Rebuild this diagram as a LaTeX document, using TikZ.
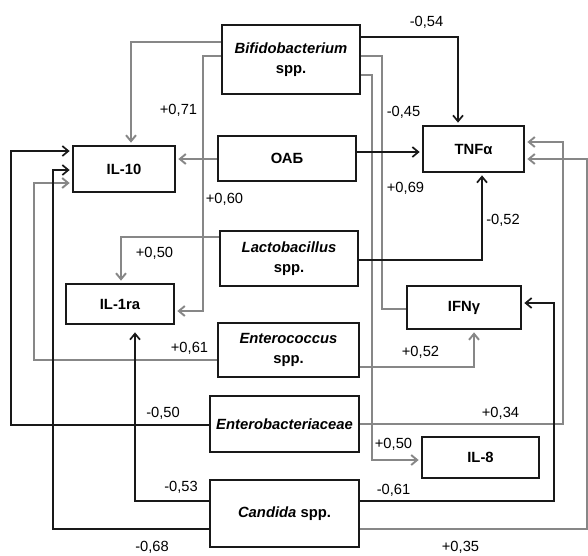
\documentclass[tikz,border=0pt]{standalone}
\usepackage{fontspec}
\setmainfont{Liberation Sans}
\usetikzlibrary{arrows.meta}
\definecolor{gl}{RGB}{135,135,135}
\definecolor{bl}{RGB}{25,25,25}
\begin{document}
\begin{tikzpicture}[x=1pt,y=-1pt,
 box/.style={draw=bl,line width=2.7pt,fill=white,font=\fontsize{14.8}{20}\selectfont\bfseries,align=center,inner sep=0pt},
 lab/.style={font=\fontsize{14.7}{16}\selectfont,anchor=base,inner sep=0pt},
 bc/.style={draw=bl,line width=1.7pt},
 gc/.style={draw=gl,line width=1.9pt},
 tip/.style={-{Straight Barb[length=6pt,width=10pt]},shorten >=2pt}]
\useasboundingbox[fill=white] (0,0) rectangle (588,555);

% nodes
\node[box,minimum width=138pt,minimum height=69pt] (bif) at (291,59.5) {\textit{Bifidobacterium}\\spp.};
\node[box,minimum width=138pt,minimum height=45pt] (oab) at (287,158.5) {ОАБ};
\node[box,minimum width=101pt,minimum height=46pt] (tnf) at (473.5,149) {TNFα};
\node[box,minimum width=102pt,minimum height=46pt] (il10) at (124,169) {IL-10};
\node[box,minimum width=138pt,minimum height=55pt] (lac) at (289,258.5) {\textit{Lactobacillus}\\spp.};
\node[box,minimum width=108pt,minimum height=40pt] (il1ra) at (120,304) {IL-1ra};
\node[box,minimum width=141pt,minimum height=54pt] (enc) at (288.5,350) {\textit{Enterococcus}\\spp.};
\node[box,minimum width=114pt,minimum height=43pt] (ifn) at (464,307.5) {IFNγ};
\node[box,minimum width=149pt,minimum height=56pt] (enb) at (284.5,424) {\textit{Enterobacteriaceae}};
\node[box,minimum width=117pt,minimum height=41pt] (il8) at (480.5,457.5) {IL-8};
\node[box,minimum width=149pt,minimum height=67pt] (can) at (284.5,513.5) {\textit{Candida} spp.};

% connectors from Bifidobacterium
\draw[gc,tip] ([yshift=17.5pt]bif.west) -| ([xshift=7pt]il10.north);
\draw[gc,tip] ([yshift=3.5pt]bif.west) -| (203,311) -- ([yshift=-7pt]il1ra.east);
\draw[bc,tip] ([yshift=22.5pt]bif.east) -| ([xshift=-15.5pt]tnf.north);
\draw[gc] ([yshift=3.5pt]bif.east) -| (382,309) -- ([yshift=-1.5pt]ifn.west);
\draw[gc,tip] ([yshift=-15.5pt]bif.east) -| (372,460) -- ([yshift=-2.5pt]il8.west);
% OAB
\draw[gc,tip] ([yshift=10pt]il10.east -| oab.west) -- ([yshift=10pt]il10.east);
\draw[bc,tip] ([yshift=-3pt]tnf.west -| oab.east) -- ([yshift=-3pt]tnf.west);
% Lactobacillus
\draw[gc,tip] ([yshift=21.5pt]lac.west) -| ([xshift=1pt]il1ra.north);
\draw[bc,tip] ([yshift=-1.5pt]lac.east) -| ([xshift=8.5pt]tnf.south);
% Enterococcus
\draw[gc,tip] ([yshift=-10pt]enc.west) -| (34,183) -- ([yshift=-14pt]il10.west);
\draw[gc,tip] ([yshift=-17pt]enc.east) -| ([xshift=10pt]ifn.south);
% Enterobacteriaceae
\draw[bc,tip] ([yshift=-1pt]enb.west) -| (11,151) -- ([yshift=18pt]il10.west);
\draw[gc,tip] (enb.east) -| (563,142) -- ([yshift=7pt]tnf.east);
% Candida
\draw[bc,tip,shorten >=7pt] ([yshift=12.5pt]can.west) -| ([xshift=15pt]il1ra.south);
\draw[bc,tip] ([yshift=-15.5pt]can.west) -| (53,170) -- ([yshift=-1pt]il10.west);
\draw[bc,tip] ([yshift=12.5pt]can.east) -| (554,303) -- ([yshift=4.5pt]ifn.east);
\draw[gc,tip] ([yshift=-15.5pt]can.east) -| (587,159) -- ([yshift=-10pt]tnf.east);

% labels
\node[lab] (l1) at (426.5,26.8) {-0,54};
\node[lab] (l2) at (178.5,114.3) {+0,71};
\node[lab] (l3) at (403.5,116.3) {-0,45};
\node[lab] (l4) at (405.5,192.8) {+0,69};
\node[lab] (l5) at (224.5,203.8) {+0,60};
\node[lab] (l6) at (154.5,257.8) {+0,50};
\node[lab] (l7) at (503,224.3) {-0,52};
\node[lab] (l8) at (189.5,352.8) {+0,61};
\node[lab] (l9) at (420.5,356.8) {+0,52};
\node[lab] (l10) at (163,417.8) {-0,50};
\node[lab] (l11) at (500.5,417.8) {+0,34};
\node[lab] (l12) at (393.5,448.8) {+0,50};
\node[lab] (l13) at (181,491.3) {-0,53};
\node[lab] (l14) at (393.5,494.3) {-0,61};
\node[lab] (l15) at (152,551.3) {-0,68};
\node[lab] (l16) at (460.5,551.3) {+0,35};
\end{tikzpicture}
\end{document}
